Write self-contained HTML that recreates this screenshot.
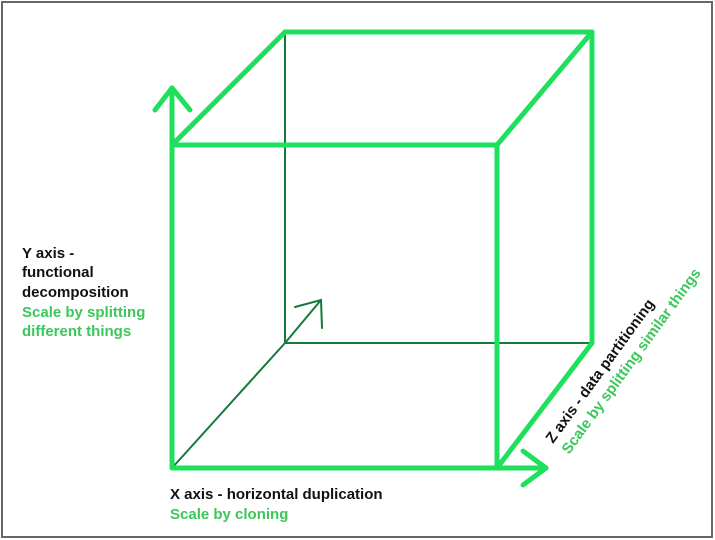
<!DOCTYPE html>
<html><head><style>
html,body{margin:0;padding:0;background:#fff;}
svg{display:block;}
text{font-family:"Liberation Sans",sans-serif;font-weight:bold;font-size:15px;}
</style></head><body>
<svg width="715" height="540" viewBox="0 0 715 540">
<rect x="2" y="2" width="710" height="535" fill="#fff" stroke="#666" stroke-width="2"/>
<g stroke="#137a3a" stroke-width="2" fill="none" stroke-linecap="round">
<line x1="285" y1="32" x2="285" y2="343"/>
<line x1="285" y1="343" x2="592" y2="343"/>
<line x1="172" y1="468" x2="285" y2="343"/>
<line x1="285" y1="343" x2="321" y2="300"/>
<polyline points="295,307 321,300 322,328"/>
</g>
<g stroke="#1ee05c" stroke-width="5" fill="none" stroke-linecap="round" stroke-linejoin="round">
<rect x="172" y="145" width="325" height="323"/>
<line x1="285" y1="32" x2="592" y2="32"/>
<line x1="592" y1="32" x2="592" y2="343"/>
<line x1="172" y1="145" x2="285" y2="32"/>
<line x1="497" y1="145" x2="592" y2="32"/>
<line x1="497" y1="468" x2="592" y2="343"/>
<line x1="172" y1="145" x2="172" y2="88"/>
<polyline points="155,110 172,88 190,110"/>
<line x1="497" y1="468" x2="546" y2="468"/>
<polyline points="523,451 546,468 523,485"/>
</g>
<g fill="#111">
<text x="22" y="258">Y axis -</text>
<text x="22" y="277">functional</text>
<text x="22" y="297">decomposition</text>
<text x="170" y="499">X axis - horizontal duplication</text>
</g>
<g fill="#3cc75a">
<text x="22" y="317">Scale by splitting</text>
<text x="22" y="336">different things</text>
<text x="170" y="519">Scale by cloning</text>
</g>
<text x="553" y="444" fill="#111" transform="rotate(-54 553 444)">Z axis - data partitioning</text>
<text x="569" y="455" fill="#3cc75a" transform="rotate(-54 569 455)">Scale by splitting similar things</text>
</svg>
</body></html>
